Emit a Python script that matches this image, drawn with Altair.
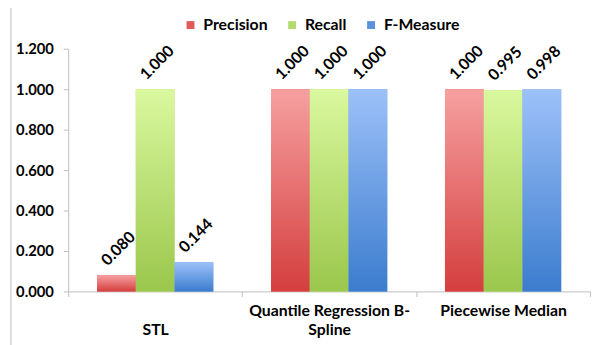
import altair as alt
import pandas as pd

categories = ["STL", "Quantile Regression B-Spline", "Piecewise Median"]
series = ["Precision", "Recall", "F-Measure"]
precision = [0.080, 1.000, 1.000]
recall = [1.000, 1.000, 0.995]
fmeasure = [0.144, 1.000, 0.998]

solid_colors = ["#E05A5A", "#B4DB6E", "#5A92DE"]
grad_top = ["#F7A0A0", "#DAF89E", "#9DC1F9"]
grad_bottom = ["#D43E3E", "#9AC74C", "#3B7CCE"]

rows = []
for s, vals in zip(series, [precision, recall, fmeasure]):
    for c, v in zip(categories, vals):
        rows.append({"category": c, "series": s, "value": v})
df = pd.DataFrame(rows)

FONT = "Lato"

x_enc = alt.X(
    "category:N",
    sort=categories,
    title=None,
    scale=alt.Scale(paddingInner=0, paddingOuter=0),
    axis=alt.Axis(
        labelAngle=0,
        tickBand="extent",
        tickSize=5,
        labelPadding=6,
        labelBaseline="top",
        labelLineHeight=20,
        labelFontSize=16,
        labelExpr=(
            "datum.value == 'STL' ? ['', 'STL'] : "
            "datum.value == 'Quantile Regression B-Spline' ? ['Quantile Regression B-', 'Spline'] : "
            "datum.value"
        ),
    ),
)
xoff_enc = alt.XOffset(
    "series:N",
    sort=series,
    scale=alt.Scale(domain=series, paddingInner=0, paddingOuter=0.745),
)
y_enc = alt.Y(
    "value:Q",
    title=None,
    scale=alt.Scale(domain=[0, 1.2], nice=False),
    axis=alt.Axis(
        values=[0, 0.2, 0.4, 0.6, 0.8, 1.0, 1.2],
        format=".3f",
        grid=False,
        tickSize=5,
        labelPadding=10,
        labelFontSize=15,
    ),
)

base = alt.Chart(df)

legend_layer = base.mark_bar().encode(
    x=x_enc,
    xOffset=xoff_enc,
    y=y_enc,
    color=alt.Color(
        "series:N",
        sort=series,
        scale=alt.Scale(domain=series, range=solid_colors),
        legend=alt.Legend(
            title=None,
            orient="none",
            direction="horizontal",
            legendX=116,
            legendY=-32,
            symbolType="square",
            symbolSize=64,
            symbolStrokeWidth=0,
            labelOffset=5,
            columnPadding=16,
            padding=0,
        ),
    ),
)

layers = [legend_layer]
for s, top, bot in zip(series, grad_top, grad_bottom):
    grad = {
        "gradient": "linear",
        "x1": 0, "y1": 0, "x2": 0, "y2": 1,
        "stops": [{"offset": 0, "color": top}, {"offset": 1, "color": bot}],
    }
    layers.append(
        base.transform_filter(alt.datum.series == s)
        .mark_bar(fill=grad)
        .encode(x=x_enc, xOffset=xoff_enc, y=y_enc)
    )

text_layer = base.mark_text(
    angle=315,
    align="center",
    baseline="middle",
    dx=20.5,
    dy=-17.5,
    font=FONT,
    fontSize=16,
    fontWeight="bold",
    color="black",
).encode(
    x=x_enc,
    xOffset=xoff_enc,
    y=y_enc,
    text=alt.Text("value:Q", format=".3f"),
)
layers.append(text_layer)

border = alt.Chart(pd.DataFrame({"k": [0]})).mark_rule(color="#BDBDBD", strokeWidth=1).encode(
    x=alt.value(-58), y=alt.value(-45), y2=alt.value(320)
)
layers.append(border)

chart = (
    alt.layer(*layers)
    .properties(
        width=529,
        height=246,
        autosize=alt.AutoSizeParams(type="none"),
        padding={"left": 61, "top": 39, "right": 5, "bottom": 52},
    )
    .configure_view(stroke=None)
    .configure_axis(
        labelFont=FONT,
        labelFontWeight="bold",
        labelColor="black",
        domainColor="#BDBDBD",
        tickColor="#BDBDBD",
    )
    .configure_legend(
        labelFont=FONT,
        labelFontSize=16,
        labelFontWeight="bold",
        labelColor="black",
    )
)

chart.save("out.html", embed_options={"renderer": "svg", "actions": False})
